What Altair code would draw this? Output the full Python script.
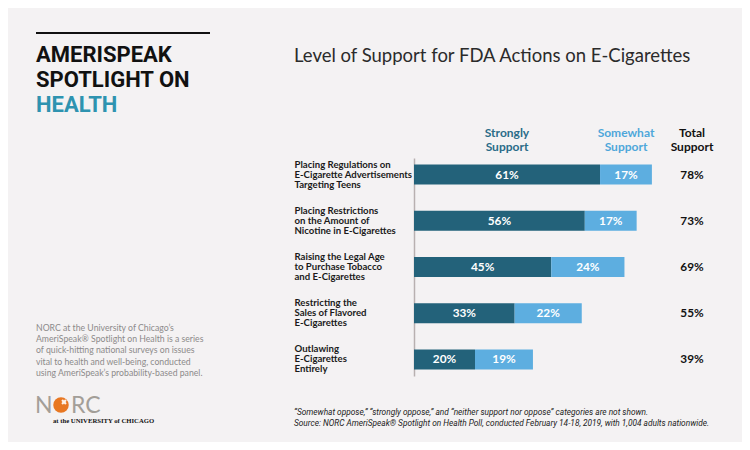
import altair as alt
import pandas as pd

categories = [
    "Placing Regulations on|E-Cigarette Advertisements|Targeting Teens",
    "Placing Restrictions|on the Amount of|Nicotine in E-Cigarettes",
    "Raising the Legal Age|to Purchase Tobacco|and E-Cigarettes",
    "Restricting the|Sales of Flavored|E-Cigarettes",
    "Outlawing|E-Cigarettes|Entirely",
]
strongly = [61, 56, 45, 33, 20]
somewhat = [17, 17, 24, 22, 19]
total = [78, 73, 69, 55, 39]
series = ["Strongly Support", "Somewhat Support"]

DARK = "#23627a"
LIGHT = "#5daee0"
BG = "#f4f2f3"

rows = []
for c, s, w in zip(categories, strongly, somewhat):
    rows.append({"cat": c, "series": series[0], "start": 0, "end": s, "val": s})
    rows.append({"cat": c, "series": series[1], "start": s, "end": s + w, "val": w})
df = pd.DataFrame(rows)
df["mid"] = (df["start"] + df["end"]) / 2
df["label"] = df["val"].astype(str) + "%"

tot = pd.DataFrame({"cat": categories, "label": [f"{t}%" for t in total]})

ysc = alt.Scale(domain=categories, paddingInner=0.565, paddingOuter=0.14)
xsc = alt.Scale(domain=[0, 100], nice=False, zero=True)

base = alt.Chart(df)

bars = base.mark_bar().encode(
    y=alt.Y("cat:N", scale=ysc, sort=categories,
            axis=alt.Axis(title=None, ticks=False, labelAlign="left", labelPadding=120,
                          labelExpr="split(datum.label, '|')", labelFont="Lato",
                          labelFontWeight="bold", labelFontSize=9.6, labelColor="#1a1a1a",
                          labelLineHeight=10, labelBaseline="middle", labelOffset=-10,
                          domainColor="#b8b0b0", domainWidth=1.5, labelLimit=200)),
    x=alt.X("start:Q", scale=xsc, axis=None),
    x2="end:Q",
    color=alt.Color("series:N", scale=alt.Scale(domain=series, range=[DARK, LIGHT]), legend=None),
)

bar_text = base.mark_text(color="white", font="Lato", fontWeight="bold", fontSize=11.8).encode(
    y=alt.Y("cat:N", scale=ysc, sort=categories),
    x=alt.X("mid:Q", scale=xsc),
    text="label:N",
)

tot_text = alt.Chart(tot).mark_text(color="#111", font="Lato", fontWeight="bold", fontSize=11.8).encode(
    y=alt.Y("cat:N", scale=ysc, sort=categories),
    x=alt.value(278),
    text="label:N",
)


def note(text, x, y, **kw):
    return alt.Chart(pd.DataFrame({"t": [text]})).mark_text(**kw).encode(
        text="t:N", x=alt.value(x), y=alt.value(y)
    )


headers = [
    note("Strongly\nSupport", 93, -21, lineBreak="\n", lineHeight=13.5, font="Lato",
         fontWeight="bold", fontSize=12, color="#2a6c88", align="center", baseline="alphabetic"),
    note("Somewhat\nSupport", 212, -21, lineBreak="\n", lineHeight=13.5, font="Lato",
         fontWeight="bold", fontSize=12, color="#4ea7da", align="center", baseline="alphabetic"),
    note("Total\nSupport", 278, -21, lineBreak="\n", lineHeight=13.5, font="Lato",
         fontWeight="bold", fontSize=12, color="#111", align="center", baseline="alphabetic"),
]

title = note("Level of Support for FDA Actions on E-Cigarettes", -120, -96, font="Lato",
             fontSize=18.5, color="#2b2b2b", align="left", baseline="alphabetic")

topline = alt.Chart(pd.DataFrame({"a": [0]})).mark_rule(color="#111", strokeWidth=2).encode(
    x=alt.value(-378), x2=alt.value(-204), y=alt.value(-125)
)

brand = note("AMERISPEAK\nSPOTLIGHT ON", -378, -96, lineBreak="\n", lineHeight=25, font="Roboto",
             fontWeight="bold", fontSize=22, color="#111", align="left", baseline="alphabetic")
health = note("HEALTH", -378, -46, font="Roboto", fontWeight="bold", fontSize=22,
              color="#2e93b0", align="left", baseline="alphabetic")

desc = note("NORC at the University of Chicago\u2019s\nAmeriSpeak\u00ae Spotlight on Health is a series\n"
            "of quick-hitting national surveys on issues\nvital to health and well-being, conducted\n"
            "using AmeriSpeak\u2019s probability-based panel.", -378, 172.5, lineBreak="\n",
            lineHeight=11.4, font="Lato", fontSize=8.7, color="#8c8a8a", align="left",
            baseline="alphabetic")

logo_n = note("N", -379, 255, font="Lato", fontSize=23, color="#a39e98", align="left",
              baseline="alphabetic")
logo_o = alt.Chart(pd.DataFrame({"a": [0]})).mark_point(filled=True, color="#e87722", opacity=1,
                                                        size=240, shape="circle").encode(
    x=alt.value(-353), y=alt.value(247))
logo_spark = alt.Chart(pd.DataFrame({"a": [0]})).mark_point(filled=True, color="white", opacity=0.9,
                                                            size=30, shape="cross", angle=45).encode(
    x=alt.value(-350), y=alt.value(244))
logo_rc = note("RC", -343, 255, font="Lato", fontSize=23, color="#a39e98", align="left",
               baseline="alphabetic")
logo_u = note("at the UNIVERSITY of CHICAGO", -361, 265, font="Liberation Serif", fontSize=6.7,
              fontWeight="bold", color="#111", align="left", baseline="alphabetic")

foot = note("\u201cSomewhat oppose,\u201d \u201cstrongly oppose,\u201d and \u201cneither support nor oppose\u201d categories are not shown.\n"
            "Source: NORC AmeriSpeak\u00ae Spotlight on Health Poll, conducted February 14-18, 2019, with 1,004 adults nationwide.",
            -120, 257, lineBreak="\n", lineHeight=10.5, font="Roboto", fontStyle="italic",
            fontSize=8.3, color="#222", align="left", baseline="alphabetic")

chart = alt.layer(
    bars, bar_text, tot_text, *headers, title, topline, brand, health, desc,
    logo_n, logo_o, logo_spark, logo_rc, logo_u, foot
).properties(
    width=305, height=218,
    autosize=alt.AutoSizeParams(type="none"),
    padding={"left": 406, "top": 150, "right": 23, "bottom": 66},
    background=BG,
).configure_view(stroke=None)

chart.save("out.html", embed_options={"renderer": "svg", "actions": False})
